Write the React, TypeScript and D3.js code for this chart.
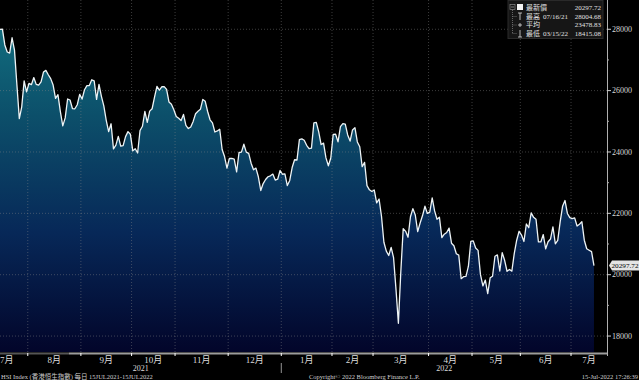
import React from "react";
import * as d3 from "d3";

// HSI daily closes, 15 Jul 2021 – 15 Jul 2022 (trading days), grouped by month
const jul21 = [27996, 28004.68, 27489, 27259, 27224, 27723, 27321, 26192, 25086, 25473, 26316, 25961];
const aug21 = [26235, 26194, 26426, 26204, 26179, 26283, 26605, 26660, 26517, 26391, 26181, 25745, 25867, 25316, 24849, 25110, 25727, 25694, 25416, 25408, 25539, 25878];
const sep21 = [25725, 26028, 26163, 26164, 26353, 26321, 25716, 26205, 25813, 25502, 25033, 24667, 24920, 24100, 24221, 24510, 24192, 24208, 24500, 24663, 24576];
const oct21 = [24036, 24104, 23967, 24701, 24838, 25325, 24963, 25331, 25409, 25787, 26136, 26017, 26126, 26132, 26038, 25628, 25555, 25377];
const nov21 = [25154, 25099, 25024, 25225, 24870, 24763, 24813, 24996, 25247, 25327, 25390, 25713, 25650, 25319, 25049, 24951, 24652, 24685, 24740, 24080, 23852, 23475];
const dec21 = [23789, 23788, 23766, 23349, 23983, 23996, 24254, 23996, 23954, 23635, 23420, 23475, 23192, 22744, 22971, 23102, 23193, 23223, 23280, 23086, 23112, 23397];
const jan22 = [23274, 23289, 22907, 23072, 23493, 23746, 23739, 24402, 24429, 24383, 24218, 24112, 24127, 24952, 24966, 24656, 24243, 24289, 23807, 23550, 23802];
const feb22 = [24573, 24579, 24329, 24829, 24924, 24906, 24556, 24355, 24718, 24793, 24328, 24171, 23520, 23660, 22902, 22767, 22713];
const mar22 = [22761, 22344, 22467, 21906, 21057, 20766, 20627, 20891, 20554, 19531, 18415.08, 20087, 21501, 21413, 21221, 21889, 22154, 21946, 21404, 21684, 21927, 22232, 21997];
const apr22 = [22039, 22502, 22080, 21808, 21873, 21208, 21320, 21374, 21518, 21027, 20945, 20682, 20638, 19869, 19934, 19946, 20276, 21089];
const may22 = [21101, 20870, 20793, 20001, 19633, 19824, 19380, 19898, 19950, 20602, 20644, 20120, 20717, 20470, 20112, 20171, 20116, 20697, 21124, 21415];
const jun22 = [21294, 21082, 21653, 21531, 22014, 21869, 21806, 21067, 21067, 21308, 20845, 21075, 21163, 21559, 21008, 21120, 21719, 22230, 22419, 21996, 21860];
const jul22 = [21830, 21853, 21587, 21643, 21725, 21124, 20844, 20797, 20751, 20297.72];

const months = [jul21, aug21, sep21, oct21, nov21, dec21, jan22, feb22, mar22, apr22, may22, jun22, jul22];
const monthLabels = ["7月", "8月", "9月", "10月", "11月", "12月", "1月", "2月", "3月", "4月", "5月", "6月", "7月"];
const yearLabels = ["2021", "2022"];
const yMajorTicks = [18000, 20000, 22000, 24000, 26000, 28000];
const yMinorTicks = [19000, 21000, 23000, 25000, 27000];
const legendRows = [
  { label: "最新價", date: "", value: "20297.72" },
  { label: "最高", date: "07/16/21", value: "28004.68" },
  { label: "平均", date: "", value: "23478.83" },
  { label: "最低", date: "03/15/22", value: "18415.08" },
];
const lastValueLabel = "20297.72";
const footerLeft = "HSI Index (香港恒生指數) 每日 15JUL2021-15JUL2022";
const footerMid = "Copyright© 2022 Bloomberg Finance L.P.";
const footerRight = "15-Jul-2022 17:26:39";

const values: number[] = months.flat();

const W = 639;
const H = 380;
const plotRight = 607;
const plotBottom = 352;
const FONT = "'Liberation Serif', 'DejaVu Serif', 'Noto Sans CJK TC', serif";

export default function App() {
  const x = d3.scaleLinear().domain([0, 251.4]).range([0, plotRight]);
  const y = d3.scaleLinear().domain([17480, 28954]).range([plotBottom, 0]);

  const area = d3
    .area<number>()
    .x((_, i) => x(i))
    .y0(plotBottom)
    .y1((d) => y(d));
  const line = d3
    .line<number>()
    .x((_, i) => x(i))
    .y((d) => y(d));

  const starts: number[] = [];
  let acc = 0;
  months.forEach((m) => {
    starts.push(acc);
    acc += m.length;
  });
  const boundaries = starts.slice(1).map((s) => x(s - 0.5));
  const edges = [0, ...boundaries, plotRight];
  const labelX = monthLabels.map((_, i) => (edges[i] + edges[i + 1]) / 2);
  const yearSplit = boundaries[5];

  const lastY = y(values[values.length - 1]);

  return (
    <svg
      width={W}
      height={H}
      style={{ position: "absolute", left: 0, top: 0, background: "#000" }}
      fontFamily={FONT}
    >
      <defs>
        <linearGradient id="fillGrad" x1="0" y1="0" x2="0" y2={plotBottom} gradientUnits="userSpaceOnUse">
          <stop offset="0" stopColor="#137684" />
          <stop offset="0.33" stopColor="#0c4f6a" />
          <stop offset="0.66" stopColor="#072858" />
          <stop offset="1" stopColor="#02052a" />
        </linearGradient>
      </defs>
      <rect x={0} y={0} width={W} height={H} fill="#000" />
      <path d={area(values) || ""} fill="url(#fillGrad)" />
      {yMajorTicks.map((t) => (
        <line key={"hg" + t} x1={0} x2={plotRight} y1={y(t)} y2={y(t)} stroke="#8a8a8a" strokeOpacity={0.55} strokeWidth={0.8} strokeDasharray="1,2" />
      ))}
      {boundaries.map((b, i) => (
        <line key={"vg" + i} x1={b} x2={b} y1={0} y2={plotBottom} stroke="#8a8a8a" strokeOpacity={0.55} strokeWidth={0.8} strokeDasharray="1,2" />
      ))}
      <path d={line(values) || ""} fill="none" stroke="#eef4f6" strokeWidth={1.3} strokeLinejoin="round" />

      {/* right axis */}
      <line x1={plotRight + 0.5} x2={plotRight + 0.5} y1={0} y2={plotBottom + 4} stroke="#b0b0b0" strokeWidth={1} />
      {yMajorTicks.map((t) => (
        <g key={"yt" + t}>
          <line x1={plotRight} x2={plotRight + 4} y1={y(t)} y2={y(t)} stroke="#d0d0d0" />
          <text x={plotRight + 5} y={y(t)} dy="0.35em" fontSize={8} fill="#d8d8d8">{t}</text>
        </g>
      ))}
      {yMinorTicks.map((t) => (
        <line key={"ym" + t} x1={plotRight} x2={plotRight + 2} y1={y(t)} y2={y(t)} stroke="#aaa" />
      ))}
      <path d={`M${plotRight + 2},${lastY} L${plotRight + 5},${lastY - 5} L${W},${lastY - 5} L${W},${lastY + 5} L${plotRight + 5},${lastY + 5} Z`} fill="#e4e4e4" />
      <text x={plotRight + 4.5} y={lastY} dy="0.35em" fontSize={7} fill="#000" textLength={27} lengthAdjust="spacingAndGlyphs">{lastValueLabel}</text>

      {/* bottom axis band */}
      <line x1={0} x2={69} y1={353.5} y2={353.5} stroke="#555" strokeWidth={2} />
      <line x1={69} x2={plotRight} y1={353.5} y2={353.5} stroke="#9c9c9c" strokeWidth={2} />
      {boundaries.map((b, i) => (
        <line key={"xt" + i} x1={b} x2={b} y1={353} y2={356} stroke="#fff" strokeWidth={1} />
      ))}
      {monthLabels.map((m, i) => (
        <text
          key={"ml" + i}
          x={i === 0 ? 0 : labelX[i]}
          y={360}
          dy="0.35em"
          textAnchor={i === 0 ? "start" : "middle"}
          fontSize={9}
          fill="#dcdcdc"
        >
          {m}
        </text>
      ))}
      <text x={yearSplit / 2} y={368} dy="0.35em" textAnchor="middle" fontSize={8} fill="#dcdcdc">{yearLabels[0]}</text>
      <text x={(yearSplit + plotRight) / 2} y={368} dy="0.35em" textAnchor="middle" fontSize={8} fill="#dcdcdc">{yearLabels[1]}</text>
      <line x1={yearSplit} x2={yearSplit} y1={363} y2={373} stroke="#bbb" strokeWidth={0.8} />

      {/* footer */}
      <text x={1} y={376.5} dy="0.35em" fontSize={6.5} fill="#cfcfcf">{footerLeft}</text>
      <text x={309} y={376.5} dy="0.35em" fontSize={6.5} fill="#cfcfcf">{footerMid}</text>
      <text x={638} y={376.5} dy="0.35em" textAnchor="end" fontSize={6.5} fill="#cfcfcf">{footerRight}</text>

      {/* legend */}
      <rect x={508} y={0.5} width={95} height={38} fill="#161616" stroke="#2a2a2a" />
      <rect x={510} y={4.5} width={5} height={5} fill="none" stroke="#888" strokeWidth={0.7} />
      <line x1={511} x2={514} y1={7} y2={7} stroke="#aaa" strokeWidth={0.7} />
      <rect x={517} y={4} width={6} height={6} fill="#f4f4f4" />
      <line x1={512.5} x2={512.5} y1={10} y2={33.5} stroke="#888" strokeWidth={0.7} strokeDasharray="1,1" />
      {[16.5, 25, 33.5].map((ry, i) => (
        <line key={"br" + i} x1={512.5} x2={517} y1={ry} y2={ry} stroke="#888" strokeWidth={0.7} strokeDasharray="1,1" />
      ))}
      <line x1={518} x2={522} y1={13} y2={13} stroke="#ddd" strokeWidth={0.8} />
      <line x1={520} x2={520} y1={13} y2={20} stroke="#ddd" strokeWidth={0.8} />
      <line x1={518} x2={522} y1={25} y2={25} stroke="#ddd" strokeWidth={0.8} />
      <line x1={520} x2={520} y1={23} y2={27} stroke="#ddd" strokeWidth={0.8} />
      <line x1={520} x2={520} y1={30} y2={37} stroke="#ddd" strokeWidth={0.8} />
      <line x1={518} x2={522} y1={37} y2={37} stroke="#ddd" strokeWidth={0.8} />
      {legendRows.map((r, i) => {
        const ry = 7.5 + i * 8.6;
        return (
          <g key={"lg" + i}>
            <text x={526} y={ry} dy="0.35em" fontSize={7} fill="#e0e0e0">{r.label}</text>
            {r.date && (
              <text x={543} y={ry} dy="0.35em" fontSize={7} fill="#e0e0e0">{r.date}</text>
            )}
            <text x={601} y={ry} dy="0.35em" textAnchor="end" fontSize={7} fill="#e0e0e0">{r.value}</text>
          </g>
        );
      })}
    </svg>
  );
}
